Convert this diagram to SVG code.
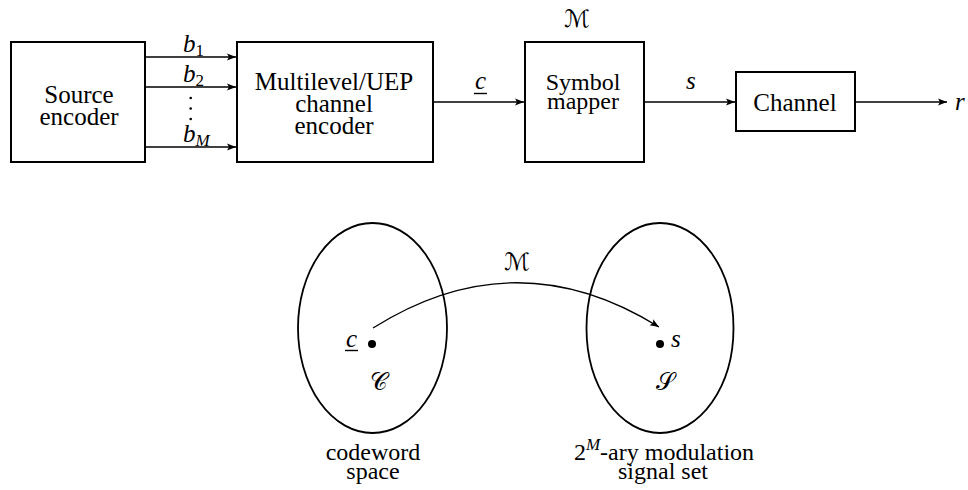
<svg xmlns="http://www.w3.org/2000/svg" width="968" height="490" viewBox="0 0 968 490">
  <style>
    .box { fill: #fff; stroke: #000; stroke-width: 2; }
    .wire { fill: none; stroke: #000; stroke-width: 1.3; }
    .set { fill: none; stroke: #000; stroke-width: 1.8; }
    .lbl { font-family: "Liberation Serif", "DejaVu Serif", serif; font-size: 25px; fill: #000; text-anchor: middle; }
    .tight { font-size: 24px; }
    .math { font-family: "Liberation Serif", "DejaVu Serif", serif; font-style: italic; font-size: 25px; fill: #000; }
    .cal { font-family: "DejaVu Sans", sans-serif; font-size: 24px; fill: #000; text-anchor: middle; }
    .sub { font-size: 17px; }
  </style>
  <defs>
    <marker id="arr" markerUnits="userSpaceOnUse" markerWidth="12" markerHeight="10" refX="10" refY="4" orient="auto">
      <path d="M1,0.5 L10,4 L1,7.5 L3,4 Z" fill="#000"/>
    </marker>
  </defs>

  <!-- block chain -->
  <g id="source-encoder">
    <rect class="box" x="11" y="42" width="134" height="120"/>
    <text class="lbl" x="79" y="103">Source</text>
    <text class="lbl" x="79" y="125">encoder</text>
  </g>

  <g id="channel-encoder">
    <rect class="box" x="237" y="42" width="196" height="120"/>
    <text class="lbl" x="334" y="90">Multilevel/UEP</text>
    <text class="lbl" x="334" y="112">channel</text>
    <text class="lbl" x="334" y="134">encoder</text>
  </g>

  <g id="symbol-mapper">
    <rect class="box" x="525" y="42" width="119" height="120"/>
    <text class="lbl tight" x="583" y="90">Symbol</text>
    <text class="lbl tight" x="583" y="109">mapper</text>
    <text class="cal" x="577" y="27">ℳ</text>
  </g>

  <g id="channel">
    <rect class="box" x="736" y="72" width="119" height="59"/>
    <text class="lbl" x="795" y="111">Channel</text>
  </g>

  <g id="connectors">
    <line class="wire" x1="145" y1="57" x2="236" y2="57" marker-end="url(#arr)"/>
    <line class="wire" x1="145" y1="87" x2="236" y2="87" marker-end="url(#arr)"/>
    <line class="wire" x1="145" y1="147" x2="236" y2="147" marker-end="url(#arr)"/>
    <line class="wire" x1="433" y1="102" x2="524" y2="102" marker-end="url(#arr)"/>
    <line class="wire" x1="644" y1="102" x2="735" y2="102" marker-end="url(#arr)"/>
    <line class="wire" x1="855" y1="102" x2="947" y2="102" marker-end="url(#arr)"/>
    <path class="wire" d="M373,328 Q516,238 659,327" marker-end="url(#arr)"/>
  </g>

  <!-- connector labels -->
  <g id="wire-labels">
    <text class="math" x="183" y="52">b<tspan class="sub" font-style="normal" dy="4">1</tspan></text>
    <text class="math" x="183" y="82">b<tspan class="sub" font-style="normal" dy="4">2</tspan></text>
    <circle cx="190.7" cy="98" r="1.3"/>
    <circle cx="190.7" cy="108.5" r="1.3"/>
    <circle cx="190.7" cy="119" r="1.3"/>
    <text class="math" x="183" y="142">b<tspan class="sub" dy="4">M</tspan></text>
    <text class="math" x="475" y="89">c</text>
    <line x1="474" y1="93.5" x2="487" y2="93.5" stroke="#000" stroke-width="1.4"/>
    <text class="math" x="686" y="89">s</text>
    <text class="math" x="955" y="110">r</text>
  </g>

  <!-- codeword space and signal set -->
  <g id="codeword-space">
    <ellipse class="set" cx="372.5" cy="328" rx="74.5" ry="105"/>
    <circle cx="372" cy="344" r="4"/>
    <text class="math" x="346" y="347">c</text>
    <line x1="345" y1="350.5" x2="358" y2="350.5" stroke="#000" stroke-width="1.4"/>
    <text class="cal" x="379" y="390">𝒞</text>
    <text class="lbl tight" x="373" y="460">codeword</text>
    <text class="lbl tight" x="373" y="479">space</text>
  </g>

  <g id="signal-set">
    <ellipse class="set" cx="660" cy="328" rx="73.5" ry="105"/>
    <circle cx="660" cy="344" r="4"/>
    <text class="math" x="671" y="347">s</text>
    <text class="cal" x="665" y="390">𝒮</text>
    <text class="lbl tight" x="664" y="460">2<tspan class="math sub" dy="-10">M</tspan><tspan dy="10">-ary modulation</tspan></text>
    <text class="lbl tight" x="663" y="479">signal set</text>
  </g>

  <text class="cal" x="517" y="270">ℳ</text>
</svg>
